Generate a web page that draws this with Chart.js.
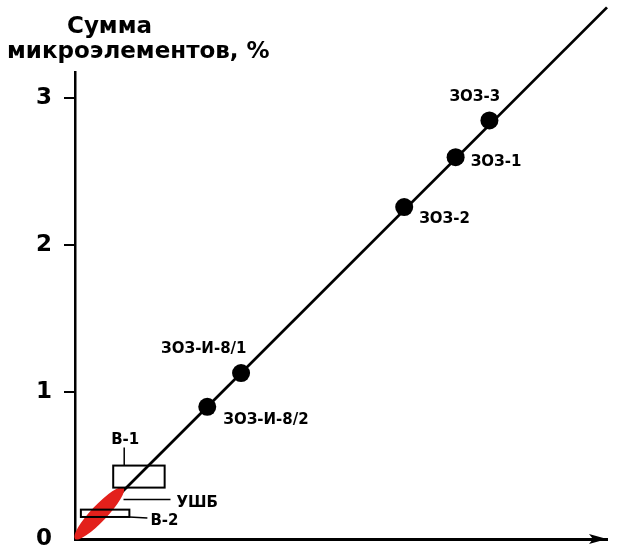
<!DOCTYPE html>
<html>
<head>
<meta charset="utf-8">
<script src="https://cdn.jsdelivr.net/npm/chart.js"></script>
<style>
  body { margin: 0; background: #fff; }
</style>
</head>
<body>
<canvas id="chart" width="625" height="550"></canvas>
<script>
// samples on the trend line
const pointLabels = ["ЗОЗ-3", "ЗОЗ-1", "ЗОЗ-2", "ЗОЗ-И-8/1", "ЗОЗ-И-8/2"];
const pointX = [2.82, 2.59, 2.24, 1.13, 0.9];
const pointY = [2.85, 2.6, 2.26, 1.13, 0.9];

// trend line y = x
const trendX = [0, 3.62];
const trendY = [0, 3.62];

// boxes В-1, В-2
const boxLabels = ["В-1", "В-2"];
const boxX0 = [0.26, 0.04];
const boxX1 = [0.61, 0.37];
const boxY0 = [0.35, 0.15];
const boxY1 = [0.5, 0.2];

// УШБ field (ellipse along the line)
const fieldLabel = "УШБ";
const fieldFrom = [0, 0];
const fieldTo = [0.33, 0.35];

const yTicks = [0, 1, 2, 3];
const titleLines = ["Сумма", "микроэлементов, %"];

const labelFont = 'bold 15px "DejaVu Sans", sans-serif';

// where each point label sits relative to its point (px)
const labelOffsets = {
  "ЗОЗ-3": [-40, -19],
  "ЗОЗ-1": [15, 9],
  "ЗОЗ-2": [15, 16],
  "ЗОЗ-И-8/1": [-80, -20],
  "ЗОЗ-И-8/2": [16, 17],
};

const annotations = {
  id: "annotations",
  afterDatasetsDraw(chart) {
    const ctx = chart.ctx;
    const xs = chart.scales.x;
    const ys = chart.scales.y;
    const px = (v) => xs.getPixelForValue(v);
    const py = (v) => ys.getPixelForValue(v);
    ctx.save();

    // ellipse
    const ax = px(fieldFrom[0]), ay = py(fieldFrom[1]);
    const bx = px(fieldTo[0]), by = py(fieldTo[1]);
    const rx = Math.hypot(bx - ax, by - ay) / 2;
    ctx.fillStyle = "#e3201b";
    ctx.beginPath();
    ctx.ellipse((ax + bx) / 2, (ay + by) / 2, rx, 8, Math.atan2(by - ay, bx - ax), 0, Math.PI * 2);
    ctx.fill();

    // boxes
    ctx.strokeStyle = "#000";
    ctx.lineWidth = 2;
    for (let i = 0; i < boxLabels.length; i++) {
      const l = px(boxX0[i]), r = px(boxX1[i]);
      const t = py(boxY1[i]), b = py(boxY0[i]);
      ctx.strokeRect(l, t, r - l, b - t);
    }

    ctx.fillStyle = "#000";
    ctx.font = labelFont;
    ctx.textBaseline = "alphabetic";
    ctx.lineWidth = 1.5;

    // В-1 leader: up from the top edge
    {
      const l = px(boxX0[0]), t = py(boxY1[0]);
      ctx.beginPath();
      ctx.moveTo(l + 11, t);
      ctx.lineTo(l + 11, t - 18);
      ctx.stroke();
      ctx.textAlign = "center";
      ctx.fillText(boxLabels[0], l + 12, t - 22);
    }
    // В-2 leader: right from the bottom corner
    {
      const r = px(boxX1[1]), b = py(boxY0[1]);
      ctx.beginPath();
      ctx.moveTo(r, b);
      ctx.lineTo(r + 18, b + 1);
      ctx.stroke();
      ctx.textAlign = "left";
      ctx.fillText(boxLabels[1], r + 21, b + 8);
    }
    // УШБ leader
    ctx.beginPath();
    ctx.moveTo(bx, by + 12);
    ctx.lineTo(bx + 47, by + 12);
    ctx.stroke();
    ctx.textAlign = "left";
    ctx.fillText(fieldLabel, bx + 53, by + 19);

    // point labels
    pointLabels.forEach((lab, i) => {
      const o = labelOffsets[lab];
      ctx.fillText(lab, px(pointX[i]) + o[0], py(pointY[i]) + o[1]);
    });

    // arrow head on the x axis
    const ca = chart.chartArea;
    ctx.beginPath();
    ctx.moveTo(ca.right, ca.bottom);
    ctx.lineTo(ca.right - 18, ca.bottom - 5);
    ctx.lineTo(ca.right - 14, ca.bottom);
    ctx.lineTo(ca.right - 18, ca.bottom + 5);
    ctx.closePath();
    ctx.fill();

    // axis title
    ctx.font = 'bold 23px "DejaVu Sans", sans-serif';
    ctx.textAlign = "left";
    ctx.fillText(titleLines[0], 67, 33);
    ctx.fillText(titleLines[1], 7, 58);

    ctx.restore();
  },
};

new Chart(document.getElementById("chart"), {
  type: "scatter",
  data: {
    datasets: [
      {
        data: pointX.map((x, i) => ({ x: x, y: pointY[i] })),
        backgroundColor: "#000",
        borderWidth: 0,
        pointRadius: 9,
        order: 0,
      },
      {
        type: "line",
        data: trendX.map((x, i) => ({ x: x, y: trendY[i] })),
        borderColor: "#000",
        borderWidth: 2.8,
        pointRadius: 0,
        clip: false,
        order: 1,
      },
    ],
  },
  options: {
    responsive: false,
    animation: false,
    layout: { autoPadding: false, padding: { top: 72, right: 18, left: 0, bottom: 0 } },
    plugins: {
      legend: { display: false },
      tooltip: { enabled: false },
    },
    scales: {
      x: {
        type: "linear",
        min: 0,
        max: 3.62,
        ticks: { display: false },
        grid: { display: false },
        border: { display: true, color: "#000", width: 3 },
        afterFit: (s) => { s.height = 11; },
      },
      y: {
        type: "linear",
        min: 0,
        max: 3.18,
        afterBuildTicks: (s) => { s.ticks = yTicks.map((v) => ({ value: v })); },
        ticks: {
          color: "#000",
          padding: 12,
          font: { family: '"DejaVu Sans", sans-serif', size: 23, weight: "bold" },
        },
        grid: {
          drawOnChartArea: false,
          tickLength: 11,
          lineWidth: 2,
          color: (c) => (c.tick && c.tick.value === 0 ? "rgba(0,0,0,0)" : "#000"),
        },
        border: { display: true, color: "#000", width: 2.5 },
        afterFit: (s) => {
          s.width = 75;
          s.paddingTop = 0;
          s.paddingBottom = 0;
        },
      },
    },
  },
  plugins: [annotations],
});
</script>
</body>
</html>
